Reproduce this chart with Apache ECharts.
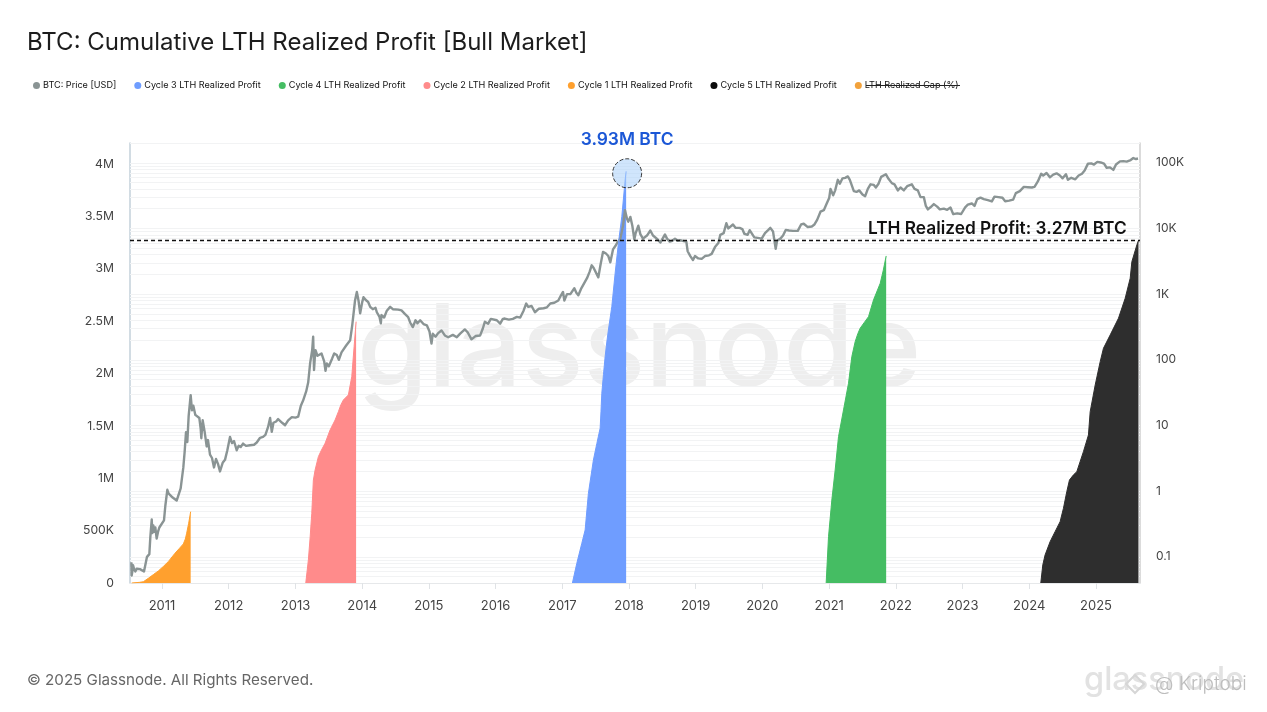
<!DOCTYPE html>
<html><head><meta charset="utf-8">
<style>html,body{margin:0;padding:0;background:#fff}#c{width:1267px;height:712px}</style>
<script src="https://cdn.jsdelivr.net/npm/echarts@6/dist/echarts.min.js"></script>
</head><body><div id="c"></div>
<script>
const titleText = 'BTC: Cumulative LTH Realized Profit [Bull Market]';
const leftTicks = {0:'0',500000:'500K',1000000:'1M',1500000:'1.5M',2000000:'2M',2500000:'2.5M',3000000:'3M',3500000:'3.5M',4000000:'4M'};
const rightTicks = {0.1:'0.1',1:'1',10:'10',100:'100',1000:'1K',10000:'10K',100000:'100K'};
const peakProfit = 3930000;
const currentProfit = 3270000;

const cycle1 = [[2010.546,0],[2010.66,6000],[2010.72,12000],[2010.795,45000],[2010.87,80000],[2010.945,115000],[2011.02,158000],[2011.094,204000],[2011.195,284000],[2011.26,330000],[2011.32,373000],[2011.35,420000],[2011.37,475000],[2011.40,570000],[2011.43,681000]];
const cycle2 = [[2013.154,0],[2013.193,220000],[2013.22,440000],[2013.244,665000],[2013.268,983000],[2013.294,1079000],[2013.343,1206000],[2013.39,1270000],[2013.444,1334000],[2013.519,1461000],[2013.594,1556000],[2013.643,1635000],[2013.68,1700000],[2013.718,1747000],[2013.793,1795000],[2013.844,1970000],[2013.879,2256000],[2013.909,2495000]];
const cycle3 = [[2017.151,0],[2017.217,188000],[2017.292,379000],[2017.342,506000],[2017.391,856000],[2017.466,1174000],[2017.517,1330000],[2017.567,1477000],[2017.58,1640000],[2017.592,1811000],[2017.617,1990000],[2017.642,2161000],[2017.667,2300000],[2017.691,2415000],[2017.742,2638000],[2017.792,2957000],[2017.841,3243000],[2017.892,3497000],[2017.942,3847000],[2017.957,3930000]];
const cycle4 = [[2020.955,0],[2020.99,442000],[2021.04,792000],[2021.09,1079000],[2021.14,1397000],[2021.215,1652000],[2021.29,1907000],[2021.34,2161000],[2021.39,2304000],[2021.43,2380000],[2021.465,2432000],[2021.53,2490000],[2021.59,2542000],[2021.665,2702000],[2021.766,2861000],[2021.81,2980000],[2021.855,3122000]];
const cycle5 = [[2024.174,0],[2024.204,172000],[2024.238,267000],[2024.313,394000],[2024.388,490000],[2024.463,585000],[2024.513,713000],[2024.563,872000],[2024.603,983000],[2024.66,1030000],[2024.713,1063000],[2024.812,1254000],[2024.887,1413000],[2024.913,1635000],[2024.988,1890000],[2025.063,2113000],[2025.112,2241000],[2025.213,2368000],[2025.337,2527000],[2025.438,2718000],[2025.513,2909000],[2025.538,3067000],[2025.613,3227000],[2025.637,3270000]];

const price = [
[2010.54,.083],[2010.545,.052],[2010.555,.06],[2010.565,.075],[2010.58,.066],[2010.6,.06],[2010.62,.066],[2010.64,.062],[2010.67,.065],[2010.7,.063],[2010.73,.06],[2010.76,.06],[2010.775,.1],[2010.79,.095],[2010.81,.11],[2010.825,.2],[2010.846,.37],[2010.855,.23],[2010.87,.3],[2010.885,.24],[2010.9,.28],[2010.92,.19],[2010.94,.24],[2010.96,.28],[2010.99,.3],[2011.03,.36],[2011.05,.6],[2011.08,1.05],[2011.10,.92],[2011.13,.88],[2011.16,.8],[2011.19,.85],[2011.22,.72],[2011.25,.68],[2011.28,1.1],[2011.32,2.3],[2011.34,4],[2011.36,7.9],[2011.38,5.6],[2011.40,14],[2011.43,29],[2011.45,17],[2011.47,20],[2011.5,14.5],[2011.53,15],[2011.56,13],[2011.58,9],[2011.59,6.4],[2011.61,12],[2011.64,8],[2011.67,4.8],[2011.69,6],[2011.72,3.6],[2011.75,3.2],[2011.78,2.3],[2011.81,3.1],[2011.84,2.6],[2011.87,2],[2011.91,2.7],[2011.945,3],[2011.98,4.2],[2012.02,6.7],[2012.05,5.4],[2012.08,5.8],[2012.12,4.2],[2012.15,4.9],[2012.18,4.7],[2012.215,5.3],[2012.26,4.9],[2012.32,5],[2012.38,5.1],[2012.42,5.5],[2012.47,6.5],[2012.514,6.7],[2012.55,7.2],[2012.59,9.5],[2012.62,13],[2012.645,8],[2012.67,11],[2012.71,11.5],[2012.74,12.5],[2012.8,11],[2012.844,10.1],[2012.89,12],[2012.945,13.4],[2013.0,13.2],[2013.04,13.6],[2013.08,20],[2013.114,24],[2013.16,33],[2013.19,45],[2013.22,90],[2013.25,140],[2013.265,225],[2013.278,70],[2013.29,110],[2013.3,140],[2013.33,115],[2013.36,110],[2013.39,125],[2013.43,95],[2013.45,68],[2013.47,88],[2013.5,80],[2013.55,105],[2013.58,125],[2013.62,118],[2013.65,100],[2013.69,130],[2013.72,125],[2013.76,165],[2013.82,199],[2013.85,330],[2013.893,800],[2013.92,1080],[2013.945,800],[2013.97,510],[2014.0,750],[2014.02,900],[2014.05,820],[2014.09,760],[2014.12,640],[2014.16,590],[2014.2,620],[2014.22,530],[2014.26,450],[2014.28,360],[2014.29,480],[2014.33,440],[2014.37,560],[2014.42,640],[2014.46,590],[2014.49,620],[2014.54,580],[2014.59,565],[2014.64,500],[2014.69,447],[2014.72,370],[2014.76,315],[2014.8,400],[2014.83,360],[2014.87,400],[2014.92,350],[2014.97,335],[2015.01,270],[2015.04,177],[2015.06,250],[2015.1,225],[2015.14,255],[2015.19,280],[2015.24,235],[2015.29,221],[2015.36,240],[2015.42,221],[2015.47,250],[2015.54,290],[2015.58,265],[2015.64,205],[2015.7,230],[2015.77,235],[2015.81,300],[2015.84,380],[2015.89,355],[2015.93,420],[2015.96,447],[2016.02,400],[2016.07,355],[2016.11,420],[2016.14,425],[2016.2,410],[2016.26,420],[2016.32,450],[2016.37,440],[2016.42,560],[2016.46,720],[2016.49,640],[2016.54,660],[2016.59,530],[2016.65,600],[2016.72,610],[2016.77,630],[2016.82,720],[2016.88,740],[2016.94,800],[2016.98,960],[2017.01,1080],[2017.03,800],[2017.07,1000],[2017.12,1000],[2017.18,1230],[2017.21,1050],[2017.24,960],[2017.28,1200],[2017.31,1280],[2017.37,1750],[2017.41,2200],[2017.44,2750],[2017.47,2500],[2017.5,2600],[2017.54,1800],[2017.57,2700],[2017.61,4400],[2017.65,4200],[2017.69,3800],[2017.72,3050],[2017.76,4800],[2017.79,5300],[2017.83,6200],[2017.87,7000],[2017.91,11000],[2017.94,19000],[2017.97,14000],[2017.99,12700],[2018.02,15000],[2018.05,11000],[2018.08,6800],[2018.1,8500],[2018.14,11000],[2018.17,8200],[2018.21,7000],[2018.24,6900],[2018.27,7800],[2018.32,9300],[2018.36,7800],[2018.39,8000],[2018.43,6800],[2018.47,6100],[2018.5,6400],[2018.54,8100],[2018.57,7000],[2018.61,6300],[2018.65,6500],[2018.69,7000],[2018.73,6500],[2018.78,6600],[2018.82,6400],[2018.86,6300],[2018.88,4500],[2018.92,3800],[2018.96,3300],[2018.99,3800],[2019.04,3500],[2019.09,3450],[2019.14,3800],[2019.2,3900],[2019.24,4100],[2019.29,5200],[2019.34,6000],[2019.37,8000],[2019.42,8500],[2019.46,12000],[2019.49,10000],[2019.52,10500],[2019.56,11500],[2019.6,10200],[2019.66,10200],[2019.7,9800],[2019.73,8300],[2019.78,8000],[2019.81,9400],[2019.84,8800],[2019.88,7300],[2019.93,7200],[2019.99,7000],[2020.04,8500],[2020.09,9500],[2020.12,10200],[2020.16,9000],[2020.2,4900],[2020.22,6500],[2020.27,7000],[2020.31,7800],[2020.35,9500],[2020.4,9300],[2020.46,9200],[2020.53,9200],[2020.58,11500],[2020.62,11800],[2020.68,10500],[2020.74,10700],[2020.78,11500],[2020.82,13500],[2020.87,18000],[2020.92,19000],[2020.96,23500],[2021.0,29000],[2021.02,40000],[2021.06,32000],[2021.09,38000],[2021.13,55000],[2021.16,48000],[2021.2,58000],[2021.24,59000],[2021.28,62000],[2021.31,55000],[2021.34,57000],[2021.37,37000],[2021.41,36000],[2021.45,38000],[2021.5,33000],[2021.54,31000],[2021.58,40000],[2021.62,47000],[2021.67,46000],[2021.7,42000],[2021.74,48000],[2021.78,61000],[2021.81,62000],[2021.85,67000],[2021.89,57000],[2021.94,49000],[2021.98,47000],[2022.03,38000],[2022.07,42000],[2022.12,38000],[2022.17,44000],[2022.24,47000],[2022.28,40000],[2022.33,38000],[2022.37,30000],[2022.42,30000],[2022.45,22000],[2022.48,19500],[2022.52,21000],[2022.57,23500],[2022.62,21500],[2022.66,19500],[2022.72,20000],[2022.77,19200],[2022.82,20800],[2022.86,16500],[2022.92,17000],[2022.98,16600],[2023.04,21000],[2023.08,23000],[2023.14,24000],[2023.18,22000],[2023.22,28000],[2023.27,29500],[2023.32,28000],[2023.38,27000],[2023.44,25800],[2023.48,30500],[2023.54,30000],[2023.6,29300],[2023.64,26000],[2023.7,26500],[2023.76,27500],[2023.8,34500],[2023.86,37000],[2023.92,43000],[2023.98,42500],[2024.04,42000],[2024.08,43000],[2024.13,52000],[2024.18,68000],[2024.21,64000],[2024.26,70000],[2024.31,60000],[2024.36,66000],[2024.41,69000],[2024.46,64000],[2024.5,58000],[2024.55,67000],[2024.58,55000],[2024.63,59000],[2024.69,56000],[2024.74,64000],[2024.79,68000],[2024.83,76000],[2024.88,97000],[2024.93,98000],[2024.97,94000],[2025.02,103000],[2025.07,101000],[2025.12,97000],[2025.16,84000],[2025.21,85000],[2025.26,78000],[2025.3,94000],[2025.36,105000],[2025.41,106000],[2025.46,104000],[2025.52,110000],[2025.56,118000],[2025.6,114000],[2025.63,116000]
];

const legendNames = ['BTC: Price [USD]','Cycle 3 LTH Realized Profit','Cycle 4 LTH Realized Profit','Cycle 2 LTH Realized Profit','Cycle 1 LTH Realized Profit','Cycle 5 LTH Realized Profit','LTH Realized Cap (%)'];
const gridValues = [0.05,0.06,0.07,0.08,0.09,0.1,0.2,0.3,0.4,0.5,0.6,0.7,0.8,0.9,1,2,3,4,5,6,7,8,9,10,20,30,40,50,60,70,80,90,100,200,300,400,500,600,700,800,900,1000,2000,3000,4000,5000,6000,7000,8000,9000,10000,20000,30000,40000,50000,60000,70000,80000,90000,100000,200000];

const toTime = y => { const f = Math.floor(y); const a = Date.UTC(f,0,1), b = Date.UTC(f+1,0,1); return a + (y-f)*(b-a); };
const toSeries = rows => rows.map(r => [toTime(r[0]), r[1]]);
const font = 'Inter, "Noto Sans", sans-serif';

function area(name, rows, color, extra) {
  return Object.assign({
    name, type:'line', yAxisIndex:0, showSymbol:false, symbol:'none', silent:true,
    data: toSeries(rows), lineStyle:{color, width:1}, itemStyle:{color}, areaStyle:{color, opacity:1}
  }, extra||{});
}

const chart = echarts.init(document.getElementById('c'), null, {renderer:'canvas'});
chart.setOption({
  animation:false, useUTC:true, backgroundColor:'#fff',
  textStyle:{fontFamily:font},
  title:{text:titleText, left:27, top:31, padding:0, textStyle:{fontFamily:font, fontSize:24, fontWeight:400, color:'#1c1c1c'}},
  legend:{left:33, top:81, padding:0, itemWidth:7, itemHeight:7, itemGap:18, icon:'circle', selectedMode:false, data:legendNames,
    textStyle:{fontFamily:font, fontSize:9.1, color:'#111', padding:[0,0,0,-2]}},
  grid:{left:130, right:127, top:143, bottom:129},
  xAxis:{type:'time', min:toTime(2010.52), max:toTime(2025.66), splitNumber:15, minInterval:366*864e5*0.9,
    axisLine:{show:true, lineStyle:{color:'#e6e8ea'}}, axisTick:{show:true, length:6, lineStyle:{color:'#e0e3e6'}},
    axisLabel:{color:'#444', fontSize:13, margin:17, formatter:'{yyyy}', showMinLabel:false, showMaxLabel:false, hideOverlap:true}, splitLine:{show:false}},
  yAxis:[
    {type:'value', min:0, max:4200000, interval:500000, position:'left',
      axisLine:{show:true, lineStyle:{color:'#c3d0da', width:1.5}}, axisTick:{show:false}, splitLine:{show:false},
      axisLabel:{color:'#444', fontSize:12.2, margin:16, padding:[5,0,0,0], showMaxLabel:false, formatter:v => leftTicks[v] ?? ''}},
    {type:'log', logBase:10, min:0.04, max:200000, position:'right',
      axisLine:{show:true, onZero:false, lineStyle:{color:'#cfcfcf', width:1.5}}, axisTick:{show:false}, splitLine:{show:false}, minorTick:{show:false},
      axisLabel:{color:'#444', fontSize:12, margin:16, padding:[7,0,0,0], showMinLabel:false, showMaxLabel:false,
        formatter:v => { const k = Object.keys(rightTicks).find(t => Math.abs(+t - v) < +t*1e-6); return k ? rightTicks[k] : ''; }}}
  ],
  graphic:[
    {type:'text', z:-10, left:357, top:294, style:{text:'glassnode', fontFamily:font, fontSize:114.5, fontWeight:500, fill:'#eeeeee'}},
    {type:'text', left:27, top:673, style:{text:'© 2025 Glassnode. All Rights Reserved.', fontFamily:font, fontSize:15.15, fill:'#666'}},
    {type:'text', z:20, left:868, top:220, style:{text:'LTH Realized Profit: 3.27M BTC', fontFamily:font, fontSize:17.3, fontWeight:600, fill:'#111'}},
    {type:'line', z:20, shape:{x1:866,y1:85.5,x2:960,y2:85.5}, style:{stroke:'#222', lineWidth:1}},
    {type:'text', left:1084, top:664, style:{text:'glassnode', fontFamily:font, fontSize:32.5, fontWeight:500, fill:'#e2e2e2'}},
    {type:'text', z:5, left:1155, top:675, style:{text:'@ Kriptobi', fontFamily:font, fontSize:19, fontWeight:300, fill:'#bdbdbd'}},
    {type:'polygon', z:5, shape:{points:[[1135,675],[1144,684],[1135,693],[1126,684]]}, style:{fill:'none', stroke:'#d6d6d6', lineWidth:2}}
  ],
  series:[
    {name:legendNames[0], type:'line', yAxisIndex:1, showSymbol:false, symbol:'none', silent:true, data:toSeries(price),
      lineStyle:{color:'#8a9494', width:2.4, join:'round'}, itemStyle:{color:'#8a9494'},
      markLine:{silent:true, symbol:'none', z:1, label:{show:false}, lineStyle:{color:'#f2f3f4', width:1, type:'solid'}, data:gridValues.map(v => ({yAxis:v}))}},
    area(legendNames[1], cycle3, '#6f9dff', {
      markPoint:{silent:true, symbol:'circle', symbolSize:29, symbolOffset:[1,2], z:15,
        itemStyle:{color:'rgba(170,208,250,0.55)', borderColor:'#333', borderWidth:1, borderType:'dashed'},
        label:{show:true, position:'top', distance:10, formatter:'3.93M BTC', fontFamily:font, fontSize:17.4, fontWeight:600, color:'#1b57d6'},
        data:[{coord:[toTime(2017.957), peakProfit]}]}}),
    area(legendNames[2], cycle4, '#45bd63'),
    area(legendNames[3], cycle2, '#ff8b8b'),
    area(legendNames[4], cycle1, '#ffa02e'),
    area(legendNames[5], cycle5, '#2e2e2e', {
      itemStyle:{color:'#0b0b0b'},
      markLine:{silent:true, symbol:'none', z:12, label:{show:false}, lineStyle:{color:'#111', width:1.4, type:[4,3]}, data:[{yAxis:currentProfit}]}}),
    {name:legendNames[6], type:'line', yAxisIndex:0, data:[], itemStyle:{color:'#f2a23c'}, lineStyle:{color:'#f2a23c'}}
  ]
});
</script></body></html>
